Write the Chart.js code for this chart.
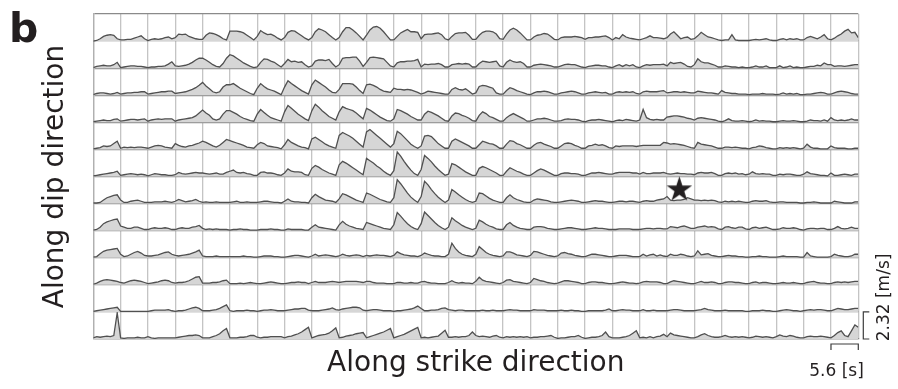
<!DOCTYPE html>
<html>
<head>
<meta charset="utf-8">
<script src="https://cdn.jsdelivr.net/npm/chart.js@4/dist/chart.umd.min.js"></script>
<style>
  html, body { margin: 0; padding: 0; background: #fff; }
  canvas { display: block; }
</style>
</head>
<body>
<canvas id="slipRates" width="898" height="389"></canvas>
<script>
// Slip-rate functions on a 28 (strike) x 12 (dip) subfault grid.
// Each subfault box spans a 5.6 s window and 2.32 m/s of height;
// every box holds 8 samples (0.7 s apart), values in m/s.
const strikeCount = 28;
const windowSec = 5.6;
const rateMax = 2.32;
const samplesPerBox = 8;

const dipRow01 = [
  [0,0.05,0.2,0.4,0.5,0.55,0.5,0.2],[0.1,0.1,0.15,0.15,0.25,0.35,0.45,0.2],[0.05,0.15,0.2,0.15,0.2,0.3,0.35,0.2],[0.3,0.6,0.55,0.6,0.4,0.3,0.2,0.15],
  [0.15,0.5,0.7,0.65,0.55,0.4,0.2,0.1],[0.85,0.85,0.85,0.8,0.7,0.5,0.3,0.1],[0.4,0.9,0.7,0.55,0.6,0.45,0.25,0.1],[0.3,0.75,0.9,0.85,0.65,0.45,0.25,0.1],
  [0.3,0.8,1.05,0.95,0.8,0.55,0.3,0.1],[0.3,0.8,1.15,1.15,0.95,0.7,0.4,0.1],[0.5,0.95,1.2,1.25,1.1,0.8,0.45,0.1],[0.1,0.4,0.7,0.85,1.0,0.8,0.8,0.75],
  [0.2,0.55,0.6,0.6,0.65,0.7,0.55,0.2],[0.1,0.4,0.65,0.7,0.7,0.75,0.5,0.15],[0.15,0.5,0.75,0.85,0.85,0.8,0.6,0.2],[0.15,0.6,0.95,1.1,0.95,0.7,0.4,0.1],
  [0.1,0.35,0.5,0.55,0.65,0.6,0.4,0.15],[0.1,0.3,0.35,0.35,0.35,0.4,0.35,0.3],[0.15,0.3,0.3,0.35,0.35,0.4,0.45,0.3],[0.1,0.3,0.2,0.55,0.35,0.25,0.2,0.15],
  [0.1,0.2,0.3,0.45,0.3,0.3,0.25,0.2],[0.3,0.6,0.8,0.5,0.2,0.3,0.35,0.15],[0.2,0.45,0.75,0.55,0.35,0.3,0.2,0.1],[0.05,0.1,0.1,0.55,0.1,0.05,0.05,0.05],
  [0.05,0.1,0.15,0.1,0.15,0.2,0.1,0.05],[0.05,0.15,0.2,0.1,0.2,0.15,0.2,0.1],[0.1,0.3,0.4,0.3,0.2,0.35,0.55,0.2],[0.1,0.25,0.45,0.6,0.85,1.0,0.7,0.75]
];
const dipRow02 = [
  [0.05,0.15,0.2,0.25,0.2,0.2,0.3,0.5],[0.05,0.1,0.15,0.2,0.2,0.15,0.15,0.1],[0.05,0.1,0.1,0.15,0.15,0.2,0.35,0.55],[0.2,0.15,0.2,0.25,0.35,0.5,0.7,0.85],
  [0.85,0.7,0.5,0.3,0.15,0.1,0.4,0.85],[1.15,1.05,0.85,0.65,0.45,0.3,0.15,0.05],[0.1,0.5,0.8,0.75,0.6,0.5,0.3,0.1],[0.4,0.75,0.55,0.6,0.5,0.55,0.3,0.1],
  [0.2,0.6,0.7,0.7,0.65,0.75,0.4,0.1],[0.3,0.85,0.9,0.9,0.95,0.95,0.6,0.15],[0.5,0.9,0.95,0.9,0.85,0.8,0.5,0.2],[0.1,0.45,0.55,0.55,0.6,0.6,0.65,0.75],
  [0.1,0.35,0.3,0.35,0.35,0.4,0.3,0.1],[0.1,0.3,0.35,0.4,0.35,0.4,0.35,0.1],[0.1,0.4,0.6,0.55,0.5,0.55,0.6,0.2],[0.1,0.5,0.7,0.55,0.5,0.55,0.4,0.1],
  [0.1,0.25,0.3,0.35,0.3,0.25,0.2,0.1],[0.1,0.2,0.3,0.35,0.3,0.3,0.2,0.1],[0.05,0.15,0.2,0.25,0.25,0.2,0.2,0.1],[0.05,0.2,0.3,0.15,0.3,0.2,0.3,0.1],
  [0.05,0.2,0.3,0.25,0.3,0.3,0.3,0.35],[0.2,0.5,0.4,0.45,0.5,0.35,0.15,0.1],[0.3,0.8,0.55,0.45,0.45,0.35,0.25,0.1],[0.1,0.2,0.15,0.1,0.1,0.05,0.1,0.05],
  [0.05,0.1,0.2,0.1,0.1,0.2,0.05,0.05],[0.05,0.2,0.05,0.1,0.2,0.05,0.1,0.05],[0.05,0.1,0.15,0.15,0.25,0.2,0.45,0.3],[0.3,0.15,0.2,0.2,0.15,0.2,0.25,0.3]
];
const dipRow03 = [
  [0.05,0.15,0.2,0.2,0.15,0.1,0.15,0.25],[0.1,0.15,0.2,0.2,0.25,0.25,0.3,0.3],[0.1,0.15,0.2,0.25,0.3,0.3,0.35,0.35],[0.15,0.2,0.25,0.3,0.4,0.5,0.65,0.85],
  [1.1,0.8,0.55,0.3,0.2,0.3,0.7,0.9],[0.9,1.0,0.8,0.6,0.45,0.3,0.15,0.05],[0.6,1.0,0.75,0.55,0.45,0.35,0.2,0.05],[0.7,1.25,1.0,0.8,0.6,0.4,0.25,0.1],
  [0.9,1.3,1.1,0.9,0.7,0.45,0.25,0.2],[0.5,1.0,1.0,1.0,0.95,0.7,0.4,0.15],[0.9,0.95,0.85,0.7,0.5,0.35,0.3,0.25],[0.6,0.5,0.5,0.45,0.5,0.45,0.35,0.25],
  [0.1,0.2,0.35,0.3,0.25,0.2,0.15,0.1],[0.1,0.5,0.65,0.5,0.45,0.55,0.35,0.1],[0.2,0.75,0.85,0.8,0.7,0.6,0.2,0.1],[0.1,0.4,0.65,0.55,0.4,0.3,0.2,0.1],
  [0.05,0.2,0.3,0.3,0.35,0.3,0.2,0.1],[0.1,0.2,0.25,0.3,0.35,0.3,0.2,0.1],[0.1,0.2,0.25,0.3,0.25,0.2,0.25,0.1],[0.1,0.25,0.3,0.25,0.3,0.25,0.3,0.15],
  [0.1,0.3,0.35,0.3,0.3,0.3,0.35,0.4],[0.2,0.25,0.3,0.3,0.25,0.3,0.25,0.2],[0.2,0.35,0.3,0.25,0.2,0.2,0.15,0.1],[0.4,0.25,0.2,0.15,0.15,0.1,0.1,0.1],
  [0.05,0.1,0.1,0.1,0.15,0.1,0.1,0.1],[0.05,0.1,0.2,0.1,0.15,0.1,0.15,0.05],[0.05,0.1,0.1,0.15,0.2,0.25,0.2,0.1],[0.1,0.2,0.3,0.35,0.3,0.25,0.15,0.1]
];
const dipRow04 = [
  [0.05,0.1,0.15,0.2,0.15,0.15,0.25,0.3],[0.1,0.15,0.2,0.25,0.25,0.2,0.25,0.3],[0.1,0.2,0.25,0.3,0.25,0.3,0.3,0.3],[0.1,0.2,0.25,0.3,0.35,0.4,0.55,0.8],
  [1.05,0.8,0.6,0.3,0.2,0.3,0.7,1.0],[1.0,0.85,0.7,0.5,0.35,0.25,0.15,0.1],[0.7,1.1,0.85,0.6,0.4,0.3,0.2,0.1],[0.9,1.45,1.2,0.95,0.7,0.5,0.3,0.15],
  [1.0,1.55,1.3,1.0,0.75,0.5,0.35,0.2],[0.9,1.35,1.2,1.1,1.0,0.8,0.55,0.3],[1.2,1.05,0.85,0.65,0.45,0.3,0.15,0.1],[0.3,1.1,1.0,0.85,0.7,0.5,0.35,0.2],
  [0.2,0.7,0.95,0.85,0.7,0.55,0.35,0.15],[0.1,0.55,0.8,0.75,0.6,0.5,0.35,0.15],[0.1,0.6,0.9,0.75,0.5,0.4,0.25,0.1],[0.1,0.4,0.6,0.75,0.6,0.45,0.3,0.1],
  [0.1,0.2,0.3,0.3,0.35,0.3,0.2,0.1],[0.1,0.15,0.25,0.3,0.25,0.25,0.2,0.1],[0.05,0.15,0.2,0.2,0.25,0.2,0.15,0.1],[0.05,0.15,0.2,0.15,0.25,0.2,0.15,0.1],
  [0.2,1.1,0.4,0.25,0.2,0.25,0.2,0.2],[0.45,0.5,0.55,0.55,0.5,0.45,0.35,0.3],[0.2,0.35,0.4,0.35,0.3,0.25,0.2,0.1],[0.05,0.15,0.3,0.15,0.1,0.1,0.15,0.1],
  [0.05,0.1,0.2,0.1,0.15,0.1,0.1,0.05],[0.05,0.1,0.15,0.1,0.1,0.15,0.1,0.05],[0.05,0.1,0.2,0.15,0.15,0.1,0.2,0.1],[0.4,0.2,0.15,0.2,0.15,0.2,0.3,0.2]
];
const dipRow05 = [
  [0.05,0.1,0.15,0.3,0.25,0.3,0.5,0.7],[0.1,0.2,0.15,0.2,0.15,0.2,0.2,0.15],[0.1,0.2,0.3,0.35,0.3,0.2,0.15,0.1],[0.5,0.35,0.25,0.2,0.3,0.35,0.45,0.55],
  [0.7,0.6,0.45,0.3,0.2,0.35,0.6,0.85],[0.75,0.65,0.55,0.45,0.35,0.2,0.15,0.1],[0.4,0.6,0.5,0.3,0.25,0.2,0.15,0.05],[0.4,0.85,0.6,0.45,0.3,0.2,0.15,0.05],
  [0.9,1.05,0.85,0.65,0.45,0.3,0.2,0.1],[1.2,1.45,1.3,1.15,0.95,0.7,0.45,0.2],[1.5,1.7,1.45,1.2,0.95,0.7,0.45,0.2],[0.5,1.55,1.35,1.05,0.75,0.45,0.25,0.1],
  [0.3,1.15,1.2,1.1,0.8,0.5,0.3,0.1],[0.1,0.7,0.9,0.75,0.6,0.45,0.3,0.1],[0.1,0.4,0.7,0.6,0.5,0.45,0.3,0.1],[0.1,0.45,0.75,0.7,0.5,0.4,0.25,0.1],
  [0.1,0.35,0.55,0.6,0.45,0.35,0.25,0.1],[0.1,0.3,0.5,0.55,0.5,0.35,0.25,0.1],[0.1,0.3,0.35,0.45,0.35,0.4,0.3,0.15],[0.1,0.3,0.25,0.3,0.3,0.3,0.3,0.25],
  [0.3,0.35,0.35,0.35,0.35,0.35,0.35,0.6],[0.55,0.45,0.5,0.45,0.4,0.35,0.25,0.15],[0.1,0.6,0.45,0.4,0.35,0.3,0.2,0.1],[0.1,0.2,0.2,0.15,0.2,0.15,0.1,0.1],
  [0.05,0.15,0.2,0.3,0.25,0.15,0.1,0.05],[0.05,0.15,0.1,0.15,0.1,0.15,0.1,0.05],[0.1,0.45,0.2,0.1,0.1,0.05,0.05,0.05],[0.3,0.15,0.1,0.1,0.1,0.05,0.05,0.1]
];
const dipRow06 = [
  [0.05,0.1,0.15,0.2,0.25,0.3,0.35,0.45],[0.1,0.15,0.2,0.25,0.2,0.15,0.2,0.15],[0.05,0.15,0.25,0.2,0.15,0.15,0.1,0.1],[0.15,0.35,0.25,0.2,0.25,0.3,0.35,0.3],
  [0.3,0.25,0.2,0.25,0.3,0.2,0.2,0.35],[0.45,0.55,0.35,0.3,0.35,0.25,0.2,0.1],[0.1,0.35,0.4,0.3,0.3,0.25,0.15,0.1],[0.3,0.65,0.45,0.4,0.4,0.35,0.15,0.1],
  [0.7,0.95,0.8,0.6,0.45,0.3,0.2,0.1],[1.0,1.3,1.15,0.95,0.75,0.55,0.35,0.15],[1.55,1.35,1.15,0.9,0.7,0.45,0.25,0.1],[0.5,2.1,1.75,1.3,0.9,0.55,0.25,0.1],
  [0.6,1.8,1.55,1.25,0.9,0.6,0.35,0.1],[0.2,1.1,1.0,0.8,0.6,0.4,0.25,0.1],[0.1,0.7,0.85,0.75,0.6,0.45,0.3,0.1],[0.1,0.45,0.75,0.6,0.45,0.35,0.2,0.1],
  [0.1,0.3,0.5,0.65,0.55,0.4,0.25,0.1],[0.1,0.25,0.3,0.3,0.25,0.25,0.2,0.1],[0.1,0.2,0.3,0.3,0.35,0.3,0.25,0.2],[0.2,0.3,0.35,0.35,0.35,0.35,0.3,0.3],
  [0.2,0.35,0.25,0.25,0.3,0.3,0.3,0.35],[0.25,0.2,0.25,0.3,0.25,0.25,0.2,0.2],[0.15,0.3,0.35,0.3,0.3,0.35,0.25,0.1],[0.1,0.25,0.3,0.25,0.3,0.2,0.25,0.15],
  [0.2,0.4,0.25,0.2,0.25,0.2,0.2,0.1],[0.1,0.2,0.15,0.2,0.2,0.15,0.1,0.1],[0.2,0.4,0.25,0.2,0.15,0.1,0.1,0.05],[0.3,0.1,0.1,0.15,0.2,0.15,0.1,0.2]
];
const dipRow07 = [
  [0.05,0.05,0.1,0.3,0.5,0.6,0.7,0.75],[0.3,0.1,0.1,0.2,0.25,0.3,0.2,0.1],[0.1,0.1,0.15,0.15,0.15,0.2,0.15,0.1],[0.2,0.35,0.25,0.15,0.2,0.25,0.35,0.2],
  [0.1,0.15,0.1,0.1,0.15,0.1,0.1,0.1],[0.1,0.15,0.2,0.1,0.1,0.15,0.1,0.1],[0.1,0.15,0.2,0.2,0.15,0.1,0.1,0.05],[0.2,0.4,0.2,0.15,0.15,0.1,0.1,0.05],
  [0.5,0.8,0.6,0.45,0.3,0.25,0.2,0.1],[0.4,0.85,0.75,0.6,0.45,0.3,0.2,0.1],[0.9,0.8,0.65,0.5,0.35,0.25,0.15,0.1],[0.5,2.05,1.7,1.3,0.9,0.55,0.3,0.1],
  [0.6,1.9,1.6,1.2,0.85,0.55,0.3,0.1],[0.3,1.2,1.0,0.75,0.55,0.35,0.2,0.1],[0.2,0.9,0.85,0.65,0.45,0.3,0.2,0.1],[0.1,0.5,0.75,0.5,0.35,0.25,0.15,0.1],
  [0.1,0.3,0.4,0.35,0.3,0.25,0.15,0.1],[0.1,0.15,0.2,0.25,0.3,0.25,0.2,0.1],[0.1,0.15,0.2,0.25,0.2,0.2,0.15,0.1],[0.1,0.15,0.2,0.2,0.15,0.2,0.2,0.15],
  [0.1,0.2,0.25,0.2,0.2,0.3,0.35,0.4],[0.6,0.3,0.25,0.3,0.3,0.35,0.5,0.4],[0.3,0.3,0.25,0.3,0.25,0.3,0.25,0.15],[0.1,0.2,0.15,0.2,0.15,0.2,0.15,0.1],
  [0.1,0.2,0.25,0.2,0.2,0.25,0.15,0.1],[0.1,0.15,0.15,0.1,0.1,0.1,0.1,0.05],[0.05,0.1,0.1,0.15,0.1,0.05,0.05,0.05],[0.05,0.2,0.15,0.1,0.05,0.05,0.05,0.15]
];
const dipRow08 = [
  [0.05,0.1,0.3,0.6,0.75,0.85,0.95,1.0],[0.4,0.3,0.2,0.2,0.3,0.3,0.2,0.1],[0.1,0.2,0.25,0.2,0.2,0.25,0.2,0.1],[0.1,0.2,0.25,0.2,0.2,0.3,0.35,0.45],
  [0.2,0.1,0.15,0.1,0.15,0.1,0.1,0.1],[0.05,0.1,0.1,0.15,0.1,0.1,0.05,0.05],[0.05,0.1,0.1,0.1,0.15,0.1,0.1,0.05],[0.05,0.15,0.1,0.1,0.1,0.1,0.05,0.05],
  [0.3,0.5,0.3,0.25,0.2,0.15,0.1,0.05],[0.5,0.8,0.55,0.4,0.3,0.2,0.15,0.1],[0.7,0.6,0.5,0.4,0.3,0.2,0.15,0.1],[0.5,1.55,1.25,0.9,0.6,0.35,0.2,0.1],
  [0.6,1.6,1.3,1.0,0.7,0.45,0.25,0.1],[0.3,1.1,0.85,0.65,0.45,0.3,0.2,0.1],[0.2,0.9,0.75,0.55,0.4,0.3,0.15,0.1],[0.1,0.5,0.7,0.45,0.3,0.2,0.15,0.1],
  [0.1,0.3,0.35,0.35,0.3,0.2,0.15,0.1],[0.1,0.15,0.2,0.25,0.25,0.2,0.15,0.1],[0.1,0.15,0.2,0.25,0.2,0.2,0.15,0.1],[0.1,0.1,0.15,0.15,0.15,0.15,0.1,0.1],
  [0.1,0.15,0.2,0.2,0.15,0.2,0.2,0.15],[0.15,0.35,0.3,0.25,0.35,0.4,0.3,0.2],[0.2,0.3,0.35,0.4,0.3,0.35,0.3,0.15],[0.1,0.3,0.35,0.25,0.2,0.3,0.3,0.15],
  [0.1,0.25,0.3,0.2,0.25,0.3,0.2,0.1],[0.1,0.15,0.25,0.2,0.2,0.25,0.2,0.1],[0.05,0.15,0.2,0.2,0.15,0.2,0.2,0.1],[0.1,0.2,0.35,0.2,0.15,0.2,0.3,0.2]
];
const dipRow09 = [
  [0.05,0.1,0.35,0.55,0.65,0.7,0.75,0.8],[0.3,0.1,0.15,0.3,0.45,0.55,0.4,0.2],[0.15,0.15,0.2,0.25,0.35,0.45,0.5,0.3],[0.2,0.15,0.2,0.25,0.3,0.4,0.5,0.65],
  [0.15,0.1,0.1,0.1,0.15,0.1,0.1,0.1],[0.1,0.1,0.1,0.1,0.15,0.1,0.1,0.05],[0.05,0.1,0.15,0.15,0.15,0.1,0.1,0.05],[0.05,0.1,0.15,0.2,0.2,0.15,0.1,0.05],
  [0.15,0.3,0.15,0.2,0.25,0.2,0.15,0.1],[0.15,0.3,0.2,0.15,0.2,0.25,0.2,0.1],[0.2,0.15,0.2,0.25,0.2,0.2,0.15,0.1],[0.2,0.5,0.35,0.25,0.2,0.15,0.15,0.1],
  [0.2,0.4,0.3,0.2,0.15,0.15,0.1,0.1],[0.3,1.25,0.8,0.5,0.3,0.2,0.15,0.1],[0.3,0.95,0.7,0.45,0.3,0.2,0.15,0.1],[0.15,0.5,0.5,0.4,0.25,0.2,0.15,0.1],
  [0.2,0.55,0.5,0.4,0.3,0.2,0.15,0.1],[0.15,0.4,0.45,0.35,0.3,0.2,0.15,0.1],[0.1,0.2,0.3,0.3,0.25,0.2,0.15,0.1],[0.1,0.15,0.2,0.2,0.2,0.15,0.1,0.1],
  [0.1,0.3,0.15,0.25,0.3,0.15,0.25,0.15],[0.1,0.3,0.2,0.2,0.3,0.25,0.15,0.1],[0.15,0.6,0.25,0.3,0.35,0.2,0.15,0.1],[0.1,0.15,0.2,0.15,0.15,0.1,0.1,0.05],
  [0.05,0.1,0.1,0.15,0.1,0.1,0.05,0.05],[0.05,0.1,0.15,0.1,0.1,0.1,0.1,0.05],[0.05,0.45,0.15,0.1,0.05,0.05,0.05,0.05],[0.1,0.3,0.2,0.15,0.1,0.1,0.15,0.3]
];
const dipRow10 = [
  [0.05,0.15,0.3,0.4,0.45,0.4,0.35,0.3],[0.2,0.15,0.25,0.35,0.4,0.35,0.3,0.2],[0.1,0.15,0.2,0.25,0.35,0.4,0.35,0.2],[0.15,0.2,0.2,0.25,0.35,0.5,0.65,0.7],
  [0.15,0.15,0.15,0.2,0.2,0.25,0.35,0.4],[0.1,0.1,0.1,0.15,0.1,0.15,0.2,0.15],[0.1,0.1,0.15,0.2,0.25,0.2,0.15,0.1],[0.1,0.15,0.2,0.2,0.25,0.2,0.2,0.1],
  [0.2,0.3,0.2,0.2,0.2,0.25,0.3,0.25],[0.2,0.25,0.3,0.3,0.3,0.3,0.25,0.2],[0.3,0.3,0.2,0.15,0.15,0.15,0.1,0.1],[0.1,0.2,0.2,0.15,0.15,0.2,0.15,0.15],
  [0.25,0.3,0.2,0.15,0.15,0.1,0.1,0.1],[0.2,0.35,0.2,0.15,0.2,0.15,0.15,0.1],[0.3,0.65,0.4,0.3,0.25,0.2,0.15,0.1],[0.2,0.4,0.45,0.3,0.25,0.2,0.15,0.1],
  [0.2,0.55,0.45,0.35,0.3,0.2,0.15,0.1],[0.15,0.25,0.35,0.35,0.3,0.25,0.2,0.1],[0.1,0.2,0.25,0.25,0.2,0.2,0.15,0.1],[0.1,0.15,0.2,0.25,0.2,0.15,0.15,0.1],
  [0.15,0.25,0.3,0.25,0.25,0.25,0.2,0.1],[0.1,0.25,0.35,0.3,0.25,0.2,0.15,0.1],[0.1,0.2,0.3,0.2,0.2,0.25,0.2,0.1],[0.1,0.2,0.25,0.25,0.2,0.2,0.15,0.1],
  [0.1,0.2,0.25,0.15,0.2,0.2,0.15,0.1],[0.1,0.15,0.2,0.15,0.15,0.2,0.15,0.1],[0.1,0.2,0.25,0.3,0.2,0.15,0.15,0.1],[0.1,0.2,0.25,0.2,0.25,0.2,0.25,0.3]
];
const dipRow11 = [
  [0.05,0.1,0.15,0.2,0.25,0.3,0.35,0.4],[0.05,0.05,0.05,0.05,0.05,0.05,0.05,0.05],[0.05,0.1,0.15,0.15,0.15,0.15,0.2,0.1],[0.05,0.1,0.1,0.15,0.25,0.35,0.4,0.3],
  [0.1,0.1,0.1,0.15,0.2,0.3,0.45,0.6],[0.1,0.05,0.1,0.1,0.1,0.15,0.1,0.1],[0.05,0.1,0.15,0.15,0.2,0.15,0.1,0.1],[0.1,0.15,0.2,0.25,0.25,0.3,0.3,0.15],
  [0.1,0.1,0.1,0.15,0.2,0.25,0.35,0.2],[0.15,0.25,0.3,0.35,0.4,0.4,0.35,0.15],[0.1,0.15,0.2,0.2,0.15,0.1,0.1,0.1],[0.05,0.1,0.1,0.15,0.2,0.25,0.35,0.5],
  [0.3,0.1,0.1,0.15,0.15,0.2,0.3,0.35],[0.2,0.15,0.1,0.15,0.15,0.1,0.1,0.1],[0.1,0.1,0.15,0.1,0.1,0.15,0.1,0.1],[0.1,0.15,0.2,0.15,0.15,0.1,0.1,0.1],
  [0.1,0.2,0.15,0.15,0.15,0.1,0.1,0.1],[0.1,0.15,0.1,0.1,0.15,0.1,0.1,0.05],[0.05,0.1,0.1,0.1,0.1,0.1,0.15,0.25],[0.1,0.1,0.15,0.2,0.15,0.15,0.1,0.1],
  [0.1,0.2,0.1,0.1,0.15,0.1,0.1,0.1],[0.1,0.15,0.2,0.2,0.15,0.1,0.1,0.1],[0.1,0.15,0.2,0.3,0.2,0.15,0.1,0.1],[0.1,0.15,0.1,0.1,0.1,0.1,0.1,0.05],
  [0.05,0.1,0.1,0.1,0.15,0.1,0.1,0.05],[0.05,0.1,0.15,0.2,0.15,0.1,0.1,0.05],[0.1,0.15,0.2,0.15,0.2,0.2,0.15,0.1],[0.1,0.2,0.3,0.25,0.2,0.2,0.25,0.3]
];
const dipRow12 = [
  [0.1,0.2,0.15,0.2,0.25,0.2,0.3,2.25],[0.1,0.05,0.1,0.1,0.1,0.15,0.1,0.1],[0.2,0.1,0.05,0.1,0.1,0.1,0.1,0.1],[0.1,0.15,0.2,0.25,0.3,0.3,0.35,0.3],
  [0.1,0.1,0.1,0.2,0.3,0.45,0.7,0.9],[0.1,0.1,0.1,0.15,0.15,0.2,0.3,0.3],[0.15,0.1,0.15,0.15,0.2,0.2,0.2,0.2],[0.1,0.2,0.25,0.35,0.45,0.6,0.8,1.0],
  [0.1,0.2,0.3,0.35,0.4,0.5,0.7,0.95],[0.1,0.15,0.25,0.3,0.35,0.45,0.5,0.55],[0.1,0.2,0.3,0.4,0.5,0.6,0.75,0.9],[0.1,0.2,0.3,0.4,0.55,0.7,0.85,1.0],
  [0.1,0.15,0.1,0.15,0.2,0.25,0.5,0.75],[0.15,0.15,0.2,0.15,0.2,0.2,0.3,0.6],[0.3,0.2,0.25,0.2,0.15,0.25,0.3,0.15],[0.1,0.2,0.15,0.2,0.15,0.2,0.15,0.2],
  [0.1,0.15,0.15,0.2,0.2,0.25,0.3,0.15],[0.05,0.1,0.1,0.15,0.2,0.2,0.3,0.15],[0.05,0.1,0.15,0.15,0.2,0.3,0.6,0.2],[0.1,0.1,0.1,0.15,0.2,0.3,0.5,0.7],
  [0.1,0.15,0.1,0.2,0.1,0.2,0.25,0.4],[0.2,0.5,0.35,0.3,0.25,0.2,0.15,0.1],[0.1,0.2,0.35,0.45,0.3,0.2,0.15,0.15],[0.2,0.3,0.2,0.15,0.2,0.15,0.2,0.15],
  [0.1,0.15,0.25,0.2,0.15,0.2,0.15,0.1],[0.2,0.35,0.25,0.2,0.3,0.25,0.15,0.1],[0.1,0.2,0.25,0.2,0.2,0.25,0.2,0.15],[0.1,0.3,0.55,0.7,0.3,0.2,0.7,1.2]
];
// Slip rate at the far strike edge of each dip row (m/s)
const rowEnd = [0.3, 0.3, 0.1, 0.2, 0.1, 0.2, 0.15, 0.2, 0.3, 0.3, 0.3, 1.0];
// Hypocenter, in subfault units (strike from the left edge, dip from the top edge)
const hypocenter = { strike: 21.45, dip: 6.49 };

const panelLabel = 'b';
const strikeTitle = 'Along strike direction';
const dipTitle = 'Along dip direction';
const timeBarLabel = '5.6 [s]';
const rateBarLabel = '2.32 [m/s]';

const rows = [dipRow01, dipRow02, dipRow03, dipRow04, dipRow05, dipRow06,
              dipRow07, dipRow08, dipRow09, dipRow10, dipRow11, dipRow12];
const dipCount = rows.length;
const ink = '#231f20';
const fontFamily = "'DejaVu Sans', sans-serif";

// One filled trace per dip row; each row sits on its own baseline.
const rowDatasets = rows.map((cells, r) => {
  const base = (dipCount - 1 - r) * rateMax;
  const data = [];
  cells.forEach((vals, c) => {
    vals.forEach((v, k) => {
      data.push({ x: c * windowSec + k * windowSec / samplesPerBox, y: base + v });
    });
  });
  data.push({ x: strikeCount * windowSec, y: base + rowEnd[r] });
  return {
    data,
    borderColor: '#505050',
    borderWidth: 1.3,
    backgroundColor: '#d6d6d6',
    fill: { value: base },
    pointRadius: 0,
    tension: 0
  };
});

// Filled five-point star marker
function starMarker(R) {
  const size = Math.ceil(R * 2) + 2;
  const cv = document.createElement('canvas');
  cv.width = size; cv.height = size;
  const g = cv.getContext('2d');
  const c = size / 2, r = R * 0.382;
  g.beginPath();
  for (let i = 0; i < 10; i++) {
    const a = -Math.PI / 2 + i * Math.PI / 5;
    const rad = i % 2 ? r : R;
    g.lineTo(c + rad * Math.cos(a), c + rad * Math.sin(a));
  }
  g.closePath();
  g.fillStyle = ink;
  g.fill();
  return cv;
}

const starDataset = {
  type: 'scatter',
  data: [{ x: hypocenter.strike * windowSec, y: (dipCount - hypocenter.dip) * rateMax }],
  pointStyle: starMarker(13.4),
  pointRadius: 13,
  showLine: false
};

// Scale bars (one box wide / one box tall) and their labels
const scaleBars = {
  id: 'scaleBars',
  afterDraw(chart) {
    const { ctx, chartArea: a, scales: { x, y } } = chart;
    ctx.save();
    ctx.strokeStyle = '#3c3c3c';
    ctx.lineWidth = 1.2;
    const x0 = x.getPixelForValue((strikeCount - 1) * windowSec);
    const x1 = x.getPixelForValue(strikeCount * windowSec);
    const ty = a.bottom + 5;
    ctx.beginPath();
    ctx.moveTo(x0, ty + 6); ctx.lineTo(x0, ty); ctx.lineTo(x1, ty); ctx.lineTo(x1, ty + 6);
    ctx.stroke();

    const y0 = y.getPixelForValue(rateMax);
    const y1 = y.getPixelForValue(0);
    const bx = a.right + 5;
    ctx.beginPath();
    ctx.moveTo(bx + 6, y0); ctx.lineTo(bx, y0); ctx.lineTo(bx, y1); ctx.lineTo(bx + 6, y1);
    ctx.stroke();

    ctx.fillStyle = ink;
    ctx.font = '17px ' + fontFamily;
    ctx.textAlign = 'center';
    ctx.textBaseline = 'alphabetic';
    ctx.fillText(timeBarLabel, x0 + 5.5, a.bottom + 36.5);

    ctx.save();
    ctx.translate(a.right + 31, (y0 + y1) / 2 - 28);
    ctx.rotate(-Math.PI / 2);
    ctx.fillText(rateBarLabel, 0, 0);
    ctx.restore();

    ctx.font = 'bold 41px ' + fontFamily;
    ctx.textAlign = 'left';
    ctx.fillText(panelLabel, 9, 41.7);
    ctx.restore();
  }
};

new Chart(document.getElementById('slipRates'), {
  type: 'line',
  data: { datasets: [starDataset, ...rowDatasets] },
  options: {
    responsive: false,
    animation: false,
    devicePixelRatio: 1,
    events: [],
    layout: { padding: { top: 11, right: 39.7, bottom: 0, left: 0 } },
    plugins: { legend: { display: false }, tooltip: { enabled: false } },
    scales: {
      x: {
        type: 'linear',
        min: 0,
        max: strikeCount * windowSec,
        afterBuildTicks: s => { s.ticks = Array.from({ length: strikeCount + 1 }, (_, i) => ({ value: i * windowSec })); },
        afterFit: s => { s.height = 50; },
        ticks: { display: false },
        grid: { color: '#c4c4c4', lineWidth: 1.3, drawTicks: false },
        border: { display: true, color: '#8a8a8a', width: 1.3 },
        title: {
          display: true, text: strikeTitle, color: ink,
          font: { family: fontFamily, size: 28 },
          padding: { top: 0, bottom: 8.9 }
        }
      },
      y: {
        type: 'linear',
        min: 0,
        max: dipCount * rateMax,
        afterBuildTicks: s => { s.ticks = Array.from({ length: dipCount + 1 }, (_, i) => ({ value: i * rateMax })); },
        afterFit: s => { s.width = 93.3; },
        ticks: { display: false },
        grid: { color: '#8a8a8a', lineWidth: 1.3, drawTicks: false },
        border: { display: true, color: '#b0b0b0', width: 1.3 },
        title: {
          display: true, text: dipTitle, color: ink,
          font: { family: fontFamily, size: 28 },
          padding: { top: 38.5, bottom: 0 }
        }
      }
    }
  },
  plugins: [scaleBars]
});
</script>
</body>
</html>
